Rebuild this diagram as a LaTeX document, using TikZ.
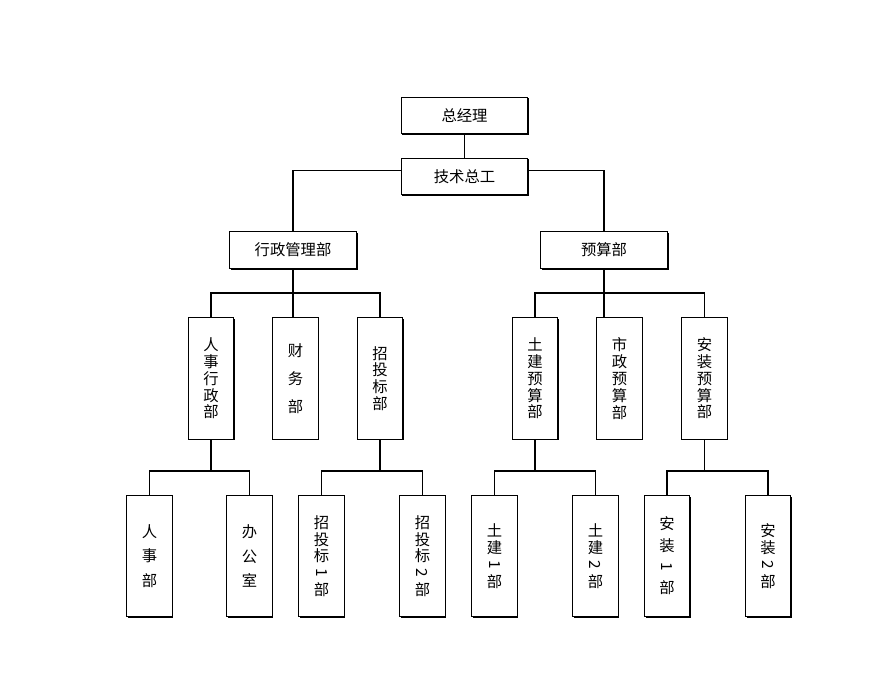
\documentclass[tikz,border=0pt]{standalone}
\usepackage{fontspec}
\usepackage{graphicx}
\newfontfamily\cjk{Noto Sans CJK SC}
\usetikzlibrary{shadows}
\tikzstyle{unit} = [rectangle, draw, fill=white, line width=0.8pt, inner sep=0pt,
  drop shadow={shadow xshift=0.9pt, shadow yshift=-0.9pt, opacity=1, fill=black}]
\tikzstyle{wide} = [unit, minimum width=95pt, minimum height=27.5pt, font=\cjk\fontsize{11.5}{13}\selectfont]
\tikzstyle{tall} = [unit, align=center, minimum width=34pt, minimum height=91pt, font=\cjk\fontsize{11.5}{12.6}\selectfont]
\tikzstyle{loose} = [tall, font=\cjk\fontsize{11.5}{18.5}\selectfont]
\tikzstyle{link} = [line width=1.4pt]
\newcommand{\sideno}[1]{\rotatebox[origin=c]{-90}{#1}}

\begin{document}
\begin{tikzpicture}[x=0.75pt, y=-0.75pt]
  \useasboundingbox (0,0) rectangle (893,697);

  % Top
  \node[wide] (gm) at (464.5,115.5) {总经理};
  \node[wide] (tech) at (464.5,176.5) {技术总工};

  % Second level
  \node[wide] (admin) at (293,250) {行政管理部};
  \node[wide] (budget) at (604,250) {预算部};

  % Third level
  \node[tall] (hr) at (211,378.5) {人\\事\\行\\政\\部};
  \node[tall, font=\cjk\fontsize{11.5}{21}\selectfont] (fin) at (295.5,378.5) {财\\务\\部};
  \node[tall] (bid) at (380,378.5) {招\\投\\标\\部};
  \node[tall] (civ) at (535,378.5) {土\\建\\预\\算\\部};
  \node[tall] (mun) at (619.5,378.5) {市\\政\\预\\算\\部};
  \node[tall] (ins) at (704.5,378.5) {安\\装\\预\\算\\部};

  % Fourth level
  \node[loose] (hrd) at (149.5,556) {人\\事\\部};
  \node[loose] (off) at (249.5,556) {办\\公\\室};
  \node[tall] (bid1) at (321.5,556) {招\\投\\标\\\sideno{1}\\部};
  \node[tall] (bid2) at (422.5,556) {招\\投\\标\\\sideno{2}\\部};
  \node[tall] (civ1) at (494.5,556) {土\\建\\\sideno{1}\\部};
  \node[tall] (civ2) at (595.5,556) {土\\建\\\sideno{2}\\部};
  \node[tall, font=\cjk\fontsize{11.5}{16}\selectfont] (ins1) at (667,556) {安\\装\\\sideno{1}\\部};
  \node[tall] (ins2) at (768,556) {安\\装\\\sideno{2}\\部};

  % Buses
  \coordinate (midbus) at (0,293);
  \coordinate (lowbus) at (0,471);

  % Top links
  \draw[link] (gm) -- (tech);
  \draw[link] ([yshift=4.5pt]tech.west) -| (admin.north);
  \draw[link] ([yshift=4.5pt]tech.east) -| (budget.north);

  % Second to third level
  \draw[link] (admin.south) -- (admin.south |- fin.north);
  \draw[link] (hr.north) -- (hr.north |- midbus) -- (bid.north |- midbus) -- (bid.north);
  \draw[link] (budget.south) -- (budget.south |- mun.north);
  \draw[link] (civ.north) -- (civ.north |- midbus) -- (ins.north |- midbus) -- (ins.north);

  % Third to fourth level
  \draw[link] (hr.south) -- (hr.south |- lowbus);
  \draw[link] (hrd.north) -- (hrd.north |- lowbus) -- (off.north |- lowbus) -- (off.north);
  \draw[link] (bid.south) -- (bid.south |- lowbus);
  \draw[link] (bid1.north) -- (bid1.north |- lowbus) -- (bid2.north |- lowbus) -- (bid2.north);
  \draw[link] (civ.south) -- (civ.south |- lowbus);
  \draw[link] (civ1.north) -- (civ1.north |- lowbus) -- (civ2.north |- lowbus) -- (civ2.north);
  \draw[link] (ins.south) -- (ins.south |- lowbus);
  \draw[link] (ins1.north) -- (ins1.north |- lowbus) -- (ins2.north |- lowbus) -- (ins2.north);
\end{tikzpicture}
\end{document}
